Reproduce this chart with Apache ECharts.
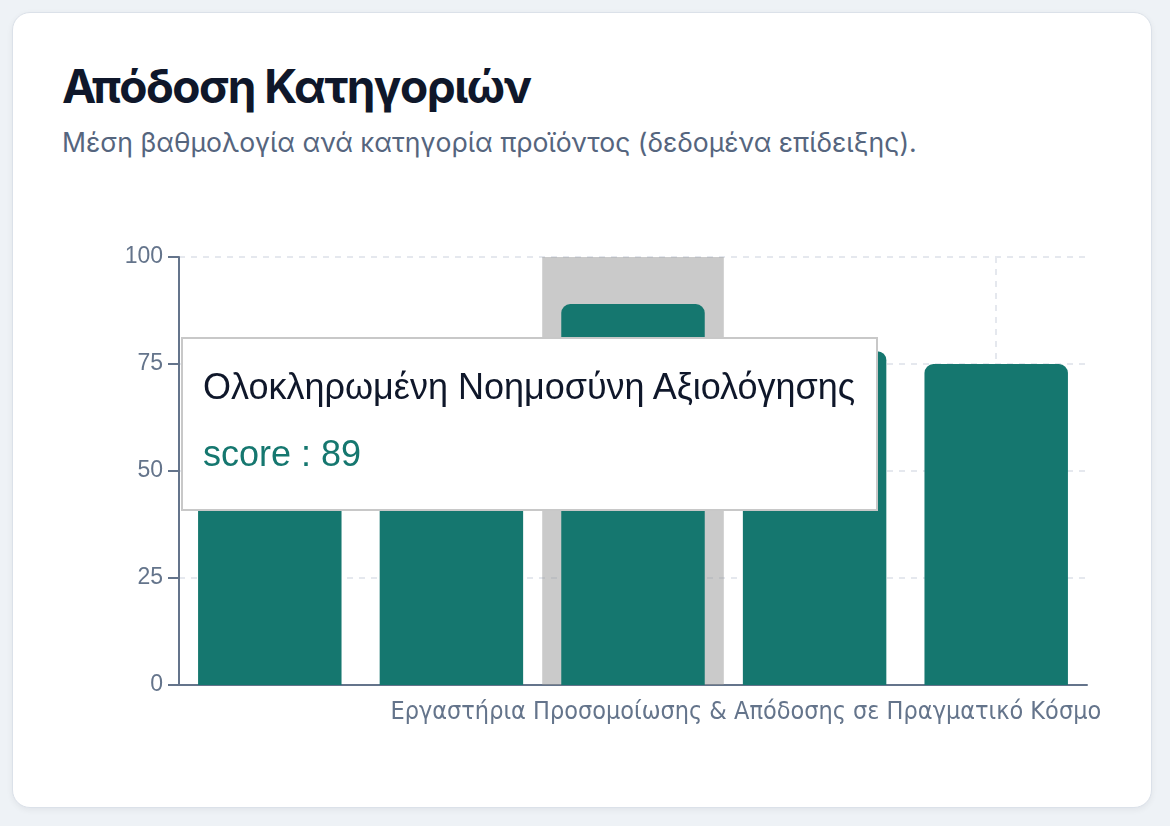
<!DOCTYPE html>
<html lang="el">
<head>
<meta charset="utf-8">
<title>Απόδοση Κατηγοριών</title>
<script src="https://cdn.jsdelivr.net/npm/echarts@6/dist/echarts.min.js"></script>
<style>
  html, body { margin: 0; padding: 0; background: #eef2f6; }
  body { width: 1170px; height: 826px; position: relative; overflow: hidden; font-family: Inter, "Noto Sans", sans-serif; }
  .card {
    position: absolute; left: 12px; top: 12px; width: 1138px; height: 794px;
    background: #fff; border: 1px solid #dbe1e9; border-radius: 18px;
    box-shadow: 0 2px 6px rgba(15, 23, 42, 0.06);
  }
  .card h1 { position: absolute; left: 49px; top: 50px; margin: 0; font-size: 46px; line-height: 1; font-weight: 700; color: #0f172a; letter-spacing: -1.5px; white-space: nowrap; }
  .card p { position: absolute; left: 49px; top: 116px; margin: 0; font-size: 26.6px; line-height: 1; color: #55657e; white-space: nowrap; }
  #chart { position: absolute; left: 49px; top: 167px; width: 1042px; height: 600px; }
</style>
</head>
<body>
<div class="card">
  <h1>Απόδοση Κατηγοριών</h1>
  <p>Μέση βαθμολογία ανά κατηγορία προϊόντος (δεδομένα επίδειξης).</p>
  <div id="chart"></div>
</div>
<script>
const categories = [
  'Πλατφόρμα Ανάλυσης Δεδομένων Πελατών',
  'Εργαλεία Αυτοματοποίησης Επιχειρησιακών Ροών',
  'Ολοκληρωμένη Νοημοσύνη Αξιολόγησης',
  'Σουίτα Παρακολούθησης Ποιότητας Υπηρεσιών',
  'Εργαστήρια Προσομοίωσης & Απόδοσης σε Πραγματικό Κόσμο'
];
const scores = [72, 68, 89, 78, 75];
const yTicks = [0, 25, 50, 75, 100];

const barColor = '#15776f';
const axisColor = '#64748b';
const tipFont = 'font-family:\'Liberation Sans\',Arial,sans-serif;font-size:36px;line-height:48px;';
const lastOnly = function (i) { return i === categories.length - 1; };

const chart = echarts.init(document.getElementById('chart'));
chart.setOption({
  animation: false,
  grid: { left: 117, right: 17, top: 77, bottom: 95, outerBoundsMode: 'none' },
  tooltip: {
    trigger: 'axis',
    alwaysShowContent: true,
    axisPointer: { type: 'shadow', z: 1, shadowStyle: { color: 'rgba(150,150,150,0.5)' } },
    position: function () { return [119, 157]; },
    backgroundColor: '#fff',
    borderColor: '#c8c8c8',
    borderWidth: 2,
    padding: [24, 21, 31, 20],
    extraCssText: 'border-radius:0;box-shadow:none;',
    formatter: function (params) {
      const p = params[0];
      return '<div style="' + tipFont + 'color:#0f172a;">' + p.name + '</div>' +
        '<div style="' + tipFont + 'color:' + barColor + ';margin-top:19px;">score : ' + p.value + '</div>';
    }
  },
  xAxis: {
    type: 'category',
    data: categories,
    axisLine: { lineStyle: { color: axisColor, width: 2 } },
    axisTick: { alignWithLabel: true, interval: lastOnly, length: 10, lineStyle: { color: axisColor, width: 2 } },
    axisLabel: {
      interval: lastOnly,
      align: 'right',
      padding: [0, -105, 0, 0],
      color: axisColor, fontSize: 25,
      fontFamily: '"Liberation Sans Narrow", "DejaVu Sans Condensed", sans-serif',
      margin: 15
    },
    splitLine: { show: true, alignWithLabel: true, interval: lastOnly, lineStyle: { color: '#e5e8ee', type: [6, 6], width: 2 } }
  },
  yAxis: {
    type: 'value',
    min: yTicks[0],
    max: yTicks[yTicks.length - 1],
    interval: yTicks[1] - yTicks[0],
    axisLine: { show: true, lineStyle: { color: axisColor, width: 2 } },
    axisTick: { show: true, length: 11, lineStyle: { color: axisColor, width: 2 } },
    axisLabel: { color: axisColor, fontSize: 23, fontFamily: '"Liberation Sans", Arial, sans-serif', margin: 16 },
    splitLine: { lineStyle: { color: '#e5e8ee', type: [6, 6], width: 2 } }
  },
  series: [{
    name: 'score',
    type: 'bar',
    data: scores,
    barWidth: '79%',
    itemStyle: { color: barColor, borderRadius: [9, 9, 0, 0] },
    emphasis: { disabled: true }
  }]
});
chart.dispatchAction({ type: 'showTip', seriesIndex: 0, dataIndex: 2 });
</script>
</body>
</html>
